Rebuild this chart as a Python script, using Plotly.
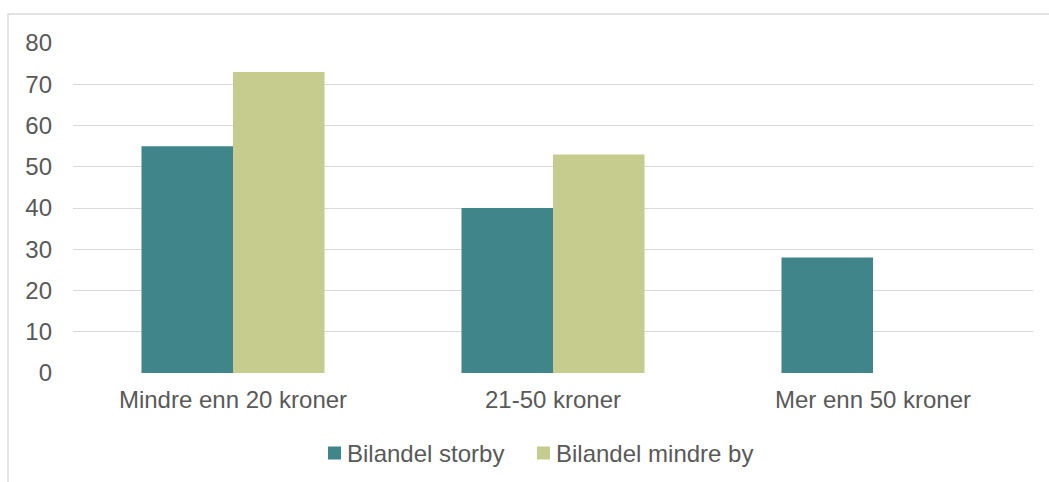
import plotly.graph_objects as go

# Price bands and car-share (%) per city type
categories = ["Mindre enn 20 kroner", "21-50 kroner", "Mer enn 50 kroner"]
series_names = ["Bilandel storby", "Bilandel mindre by"]
storby = [55, 40, 28]
mindre_by = [73, 53, None]
y_ticks = [0, 10, 20, 30, 40, 50, 60, 70, 80]

TEAL = "#40858A"
OLIVE = "#C6CB8E"
GRID = "#D9D9D9"
TEXT = "#595959"
FONT = "Liberation Sans, Arial, sans-serif"

fig = go.Figure()
fig.add_trace(go.Bar(name=series_names[0], x=categories, y=storby,
                     marker=dict(color=TEAL, line=dict(width=0))))
fig.add_trace(go.Bar(name=series_names[1], x=categories, y=mindre_by,
                     marker=dict(color=OLIVE, line=dict(width=0))))

W, H = 1049, 482
L, R, T, B = 73, 16, 43, 109
pw, ph = W - L - R, H - T - B


def px_x(x):
    return (x - L) / pw


def px_y(y):
    return (H - B - y) / ph


# Outer chart frame (partially visible at top and left)
fig.add_shape(type="rect", xref="paper", yref="paper",
              x0=px_x(8), x1=px_x(1070), y0=px_y(500), y1=px_y(14),
              line=dict(color=GRID, width=1.3), fillcolor="rgba(0,0,0,0)",
              layer="below")

# Legend: colour swatches with labels beside them, centred under the plot
legend_items = [(series_names[0], TEAL, 328), (series_names[1], OLIVE, 537)]
for name, color, x0 in legend_items:
    fig.add_shape(type="rect", xref="paper", yref="paper",
                  x0=px_x(x0), x1=px_x(x0 + 13), y0=px_y(459.5), y1=px_y(446.5),
                  line=dict(width=0), fillcolor=color)
    fig.add_annotation(xref="paper", yref="paper", x=px_x(x0 + 17), y=px_y(453),
                       xanchor="left", yanchor="middle", showarrow=False,
                       text=name, font=dict(family=FONT, size=24, color=TEXT))

fig.update_layout(
    width=W, height=H,
    margin=dict(l=L, r=R, t=T, b=B),
    paper_bgcolor="white", plot_bgcolor="white",
    barmode="group", bargap=0.428, bargroupgap=0,
    font=dict(family=FONT, size=24, color=TEXT),
    showlegend=False,
    xaxis=dict(showgrid=False, showline=False, ticks="",
               ticklabelstandoff=10, tickfont=dict(size=24, color=TEXT)),
    yaxis=dict(range=[0, 80], tickvals=y_ticks, showgrid=True,
               gridcolor=GRID, gridwidth=1.3, zeroline=False, showline=False,
               ticks="", ticklabelstandoff=20,
               tickfont=dict(size=24, color=TEXT)),
)

fig.write_html("out.html")
